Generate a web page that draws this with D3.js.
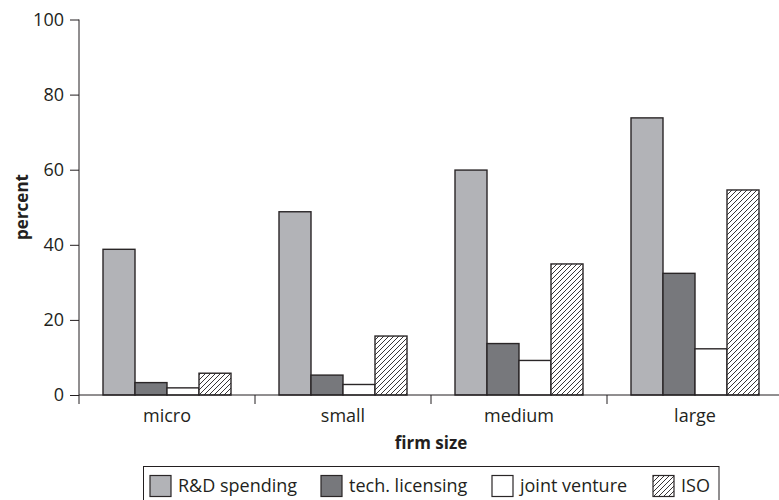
<!DOCTYPE html>
<html>
<head>
<meta charset="utf-8">
<script src="https://cdn.jsdelivr.net/npm/d3@7"></script>
<style>
  html, body { margin: 0; padding: 0; background: #fff; }
  svg { display: block; font-family: "Open Sans", sans-serif; }
</style>
</head>
<body>
<svg id="chart" width="779" height="500"></svg>
<script>
const categories = ["micro", "small", "medium", "large"];
const seriesNames = ["R&D spending", "tech. licensing", "joint venture", "ISO"];
const rdSpending = [38.8, 48.8, 59.9, 73.8];
const techLicensing = [3.3, 5.3, 13.7, 32.4];
const jointVenture = [1.9, 2.8, 9.2, 12.3];
const iso = [5.8, 15.7, 34.9, 54.6];
const yTicks = [0, 20, 40, 60, 80, 100];

const seriesValues = [rdSpending, techLicensing, jointVenture, iso];
const fills = ["#b2b3b7", "#77787c", "#ffffff", "url(#hatch)"];
const strokeCol = "#2a2627";
const FS = 18;

const svg = d3.select("#chart");
const defs = svg.append("defs");
const pat = defs.append("pattern").attr("id", "hatch").attr("patternUnits", "userSpaceOnUse")
  .attr("width", 5).attr("height", 5);
pat.append("rect").attr("width", 5).attr("height", 5).attr("fill", "#fff");
pat.append("path").attr("d", "M-1,1 L1,-1 M0,5 L5,0 M4,6 L6,4")
  .attr("stroke", "#231f20").attr("stroke-width", 0.9);

const x0 = d3.scaleBand().domain(categories).range([79, 783]).paddingInner(0).paddingOuter(0);
const x1 = d3.scaleBand().domain(seriesNames).range([24, x0.bandwidth() - 24]).padding(0);
const y = d3.scaleLinear().domain([0, 100]).range([395, 19.5]);

// bars
const groups = svg.append("g").selectAll("g").data(categories).join("g")
  .attr("transform", d => `translate(${x0(d)},0)`);
groups.selectAll("rect")
  .data((c, ci) => seriesNames.map((s, si) => ({ s, si, v: seriesValues[si][ci] })))
  .join("rect")
  .attr("x", d => x1(d.s))
  .attr("y", d => y(d.v))
  .attr("width", x1.bandwidth())
  .attr("height", d => y(0) - y(d.v))
  .attr("fill", d => fills[d.si])
  .attr("stroke", strokeCol)
  .attr("stroke-width", 1.4);

// y axis
const yAxis = d3.axisLeft(y).tickValues(yTicks).tickSize(9).tickPadding(6);
const gy = svg.append("g").attr("transform", "translate(79,0)").call(yAxis);
gy.select(".domain").attr("d", "M0,19.5 V404").attr("stroke", "#231f20");
gy.selectAll(".tick line").attr("stroke", "#231f20");
gy.selectAll(".tick text").attr("font-size", FS).attr("fill", "#231f20")
  .attr("font-family", "Open Sans, sans-serif");

// x axis
const boundaries = categories.slice(1).map(c => x0(c));
const gx = svg.append("g").attr("transform", "translate(0,395)");
gx.append("line").attr("x1", 79).attr("x2", 783).attr("y1", 0).attr("y2", 0).attr("stroke", "#231f20");
gx.selectAll("line.b").data(boundaries).join("line").attr("class", "b")
  .attr("x1", d => d).attr("x2", d => d).attr("y1", 0).attr("y2", 9).attr("stroke", "#231f20");
gx.selectAll("text").data(categories).join("text")
  .attr("x", d => x0(d) + x0.bandwidth() / 2)
  .attr("y", 27)
  .attr("text-anchor", "middle")
  .attr("font-size", FS)
  .attr("fill", "#231f20")
  .text(d => d);

// axis titles
svg.append("text").attr("x", 431).attr("y", 449)
  .attr("text-anchor", "middle").attr("font-size", FS - 1).attr("font-weight", "bold")
  .attr("fill", "#231f20").text("firm size");
svg.append("text").attr("transform", "translate(28,207) rotate(-90)")
  .attr("text-anchor", "middle").attr("font-size", FS - 1).attr("font-weight", "bold")
  .attr("fill", "#231f20").text("percent");

// legend
const lg = svg.append("g");
lg.append("rect").attr("x", 143.5).attr("y", 466.5).attr("width", 575.5).attr("height", 40)
  .attr("fill", "none").attr("stroke", "#231f20").attr("stroke-width", 1);
const legendX = [150, 321, 492, 653];
seriesNames.forEach((s, i) => {
  lg.append("rect").attr("x", legendX[i]).attr("y", 475.5).attr("width", 21).attr("height", 21)
    .attr("fill", fills[i]).attr("stroke", strokeCol).attr("stroke-width", 1.2);
  lg.append("text").attr("x", legendX[i] + 28).attr("y", 492).attr("font-size", FS)
    .attr("fill", "#231f20").text(s);
});
</script>
</body>
</html>
